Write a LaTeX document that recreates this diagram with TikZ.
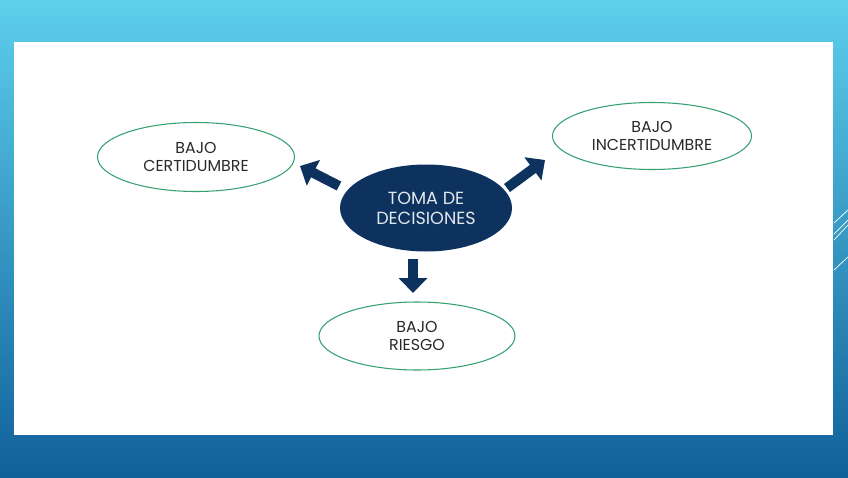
\documentclass[tikz,border=0pt]{standalone}
\usepackage{fontspec}
\setmainfont{Poppins}
\usetikzlibrary{shapes.geometric, arrows.meta}
\definecolor{marino}{HTML}{0D325E}
\definecolor{verde}{HTML}{35A070}
\definecolor{cielo}{HTML}{5ECFED}
\definecolor{oceano}{HTML}{10619A}
\definecolor{tinta}{HTML}{2A2A2A}
\begin{document}
\begin{tikzpicture}[x=0.03cm, y=-0.03cm,
    idea/.style={ellipse, draw=verde, line width=0.9pt, fill=white, inner sep=0pt, minimum width=5.9cm, minimum height=2.05cm, align=center, text=tinta, font=\fontsize{13.5}{15.6}\selectfont},
    centro/.style={ellipse, fill=marino, inner sep=0pt, minimum width=5.16cm, minimum height=2.61cm, align=center, text=white!88!marino, font=\fontsize{15}{17}\selectfont},
    flecha/.style={line width=0.3cm, draw=marino, -{Triangle[length=0.45cm, width=0.84cm]}},
    raya/.style={draw=white, line width=0.6pt}]
    \shade[top color=cielo, bottom color=oceano] (0,0) rectangle (848,477);
    \useasboundingbox (0,0) rectangle (848,477);
    \fill[white] (14,42) rectangle (833,435);

    \draw[raya] (834,223) -- (848,210);
    \draw[raya] (834,234) -- (848,220);
    \draw[raya] (834,240) -- (848,225);
    \draw[raya] (834,270) -- (848,257);

    \node[centro] (toma) at (426,208) {TOMA DE\\DECISIONES};
    \node[idea, minimum width=5.91cm, minimum height=2.07cm] (cert) at (196,157) {BAJO\\CERTIDUMBRE};
    \node[idea, minimum width=5.97cm, minimum height=2.01cm] (incert) at (652,136) {BAJO\\INCERTIDUMBRE};
    \node[idea, minimum width=5.88cm, minimum height=2.04cm] (riesgo) at (417,336) {BAJO\\RIESGO};

    \coordinate (c1) at (339,186);
    \coordinate (c2) at (300,166);
    \coordinate (i1) at (507,188);
    \coordinate (i2) at (545,160);
    \coordinate (r1) at (413,259);
    \coordinate (r2) at (413,293);

    \draw[flecha] (c1) -- (c2);
    \draw[flecha] (i1) -- (i2);
    \draw[flecha] (r1) -- (r2);
\end{tikzpicture}
\end{document}
